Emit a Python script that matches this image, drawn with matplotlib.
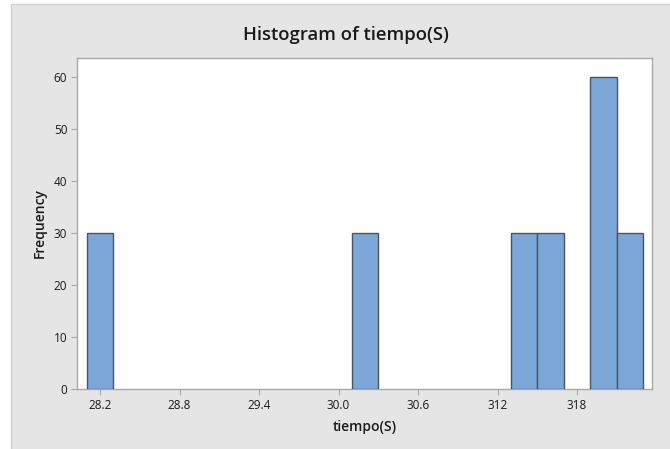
import matplotlib
matplotlib.use("Agg")
import matplotlib.pyplot as plt
from matplotlib.patches import Rectangle

# Data
bin_centers = [28.2, 30.2, 31.4, 31.6, 32.0, 32.2]
counts = [30, 30, 30, 30, 60, 30]
bin_width = 0.2
xtick_pos = [28.2, 28.8, 29.4, 30.0, 30.6, 31.2, 31.8]
xtick_labels = ["28.2", "28.8", "29.4", "30.0", "30.6", "312", "318"]
ytick_pos = [0, 10, 20, 30, 40, 50, 60]
ytick_labels = ["0", "10", "20", "30", "40", "50", "60"]

plt.rcParams['font.family'] = ['Open Sans', 'DejaVu Sans']

W, H = 670, 449
fig = plt.figure(figsize=(W / 100, H / 100), dpi=100, facecolor="white")

# gray panel
panel = Rectangle((11 / W, -0.01), 1.02 - 11 / W, 1.01 - 4 / H, transform=fig.transFigure,
                  facecolor="#e5e5e5", edgecolor="#cfcfcf", linewidth=1.0, zorder=-10)
fig.add_artist(panel)

ax = fig.add_axes([77 / W, 1 - 389 / H, (652 - 77) / W, (389 - 58) / H])
ax.set_zorder(5)
ax.set_facecolor("white")

ax.bar(bin_centers, counts, width=bin_width, color="#7da7d9",
       edgecolor="#4b5560", linewidth=1.0, zorder=3)

ax.set_xlim(28.026, 32.366)
ax.set_ylim(0, 63.7)
ax.set_xticks(xtick_pos)
ax.set_xticklabels(xtick_labels)
ax.set_yticks(ytick_pos)
ax.set_yticklabels(ytick_labels)

for s in ax.spines.values():
    s.set_color("#a8a8a8")
    s.set_linewidth(1.0)
ax.tick_params(axis="both", direction="out", length=4, width=0.8, color="#a8a8a8",
               labelsize=8.5, labelcolor="#1a1a1a", pad=3)

ax.set_xlabel("tiempo(S)", fontsize=10, fontweight="semibold", color="#1a1a1a", labelpad=6)
ax.set_ylabel("Frequency", fontsize=10, fontweight="semibold", color="#1a1a1a", labelpad=5)

fig.text(346 / W, 1 - 35 / H, "Histogram of tiempo(S)", ha="center", va="center",
         fontsize=13.3, fontweight="semibold", color="#1a1a1a")

fig.savefig("out.png", dpi=100, facecolor=fig.get_facecolor())
